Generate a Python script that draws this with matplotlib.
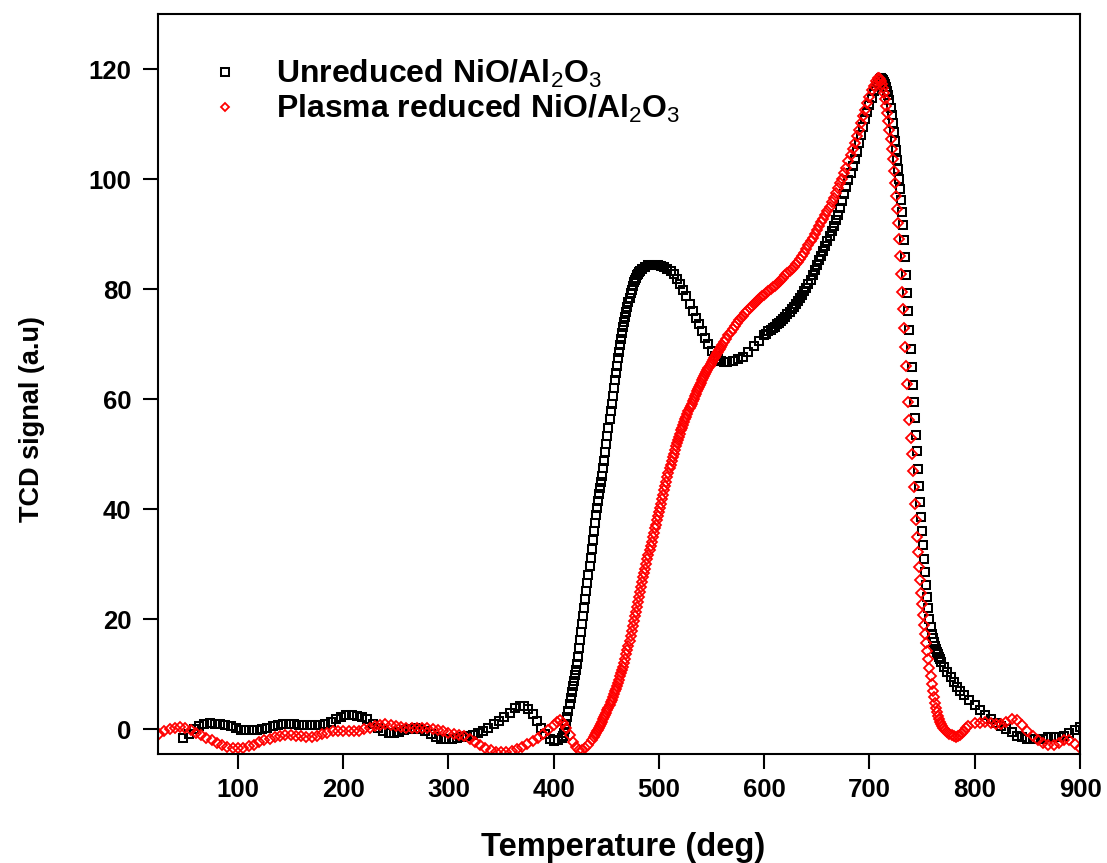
import matplotlib
matplotlib.use("Agg")
import matplotlib.pyplot as plt
from matplotlib import font_manager
import numpy as np

plt.rcParams['font.family'] = ['Liberation Sans', 'DejaVu Sans']
plt.rcParams['mathtext.fontset'] = 'custom'
plt.rcParams['mathtext.rm'] = 'Liberation Sans'
plt.rcParams['mathtext.default'] = 'rm'

# ---------------- data ----------------
# Unreduced NiO/Al2O3 (black squares), in segments of temperature sampling
unred_t1 = np.arange(48, 369, 5)
unred_v1 = [-1.6, -0.8, 0.0, 0.6, 0.9, 1.1, 1.0, 0.9, 0.8, 0.5, 0.2, -0.1, -0.2, -0.2, -0.1, 0.1, 0.3, 0.6, 0.8, 0.9,
            0.9, 0.9, 0.8, 0.8, 0.7, 0.7, 0.8, 1.0, 1.4, 1.8, 2.2, 2.5, 2.5, 2.4, 2.2, 1.8, 1.0, 0.2, -0.4, -0.6,
            -0.6, -0.5, -0.2, 0.1, 0.2, 0.1, -0.3, -0.9, -1.5, -1.7, -1.7, -1.7, -1.6, -1.4, -1.2, -1.0, -0.7, -0.3, 0.3, 0.9,
            1.5, 2.2, 3.0, 3.8, 4.3]
unred_t2 = np.arange(372, 409, 4)
unred_v2 = [4.3, 3.7, 2.8, 1.5, 0.3, -0.9, -1.7, -2.1, -2.0, -1.6]
unred_t3 = np.arange(409, 483)
unred_v3 = [-1.2, -0.6, 0.0, 1.0, 2.2, 3.4, 4.6, 5.7, 6.8, 7.8,
            8.8, 9.8, 10.8, 11.8, 13.2, 14.7, 16.2, 17.7, 19.2, 20.6,
            22.1, 23.6, 25.1, 26.6, 28.1, 29.6, 31.2, 32.8, 34.4, 36.0,
            37.5, 39.0, 40.3, 41.5, 42.7, 43.8, 44.9, 46.1, 47.4, 48.8,
            50.3, 51.8, 53.3, 54.8, 56.3, 57.8, 59.2, 60.6, 62.0, 63.4,
            64.8, 66.1, 67.4, 68.6, 69.8, 71.0, 72.1, 73.1, 74.1, 75.0,
            75.9, 76.8, 77.6, 78.4, 79.2, 79.9, 80.6, 81.2, 81.7, 82.1,
            82.5, 82.8, 83.1, 83.3]
unred_t4 = np.arange(484, 566, 3)
unred_v4 = [83.6, 84.0, 84.3, 84.4, 84.4, 84.3, 84.2, 84.0, 83.7, 83.3,
            82.7, 81.9, 81.0, 79.9, 78.7, 77.3, 76.0, 74.8, 73.6, 72.4,
            71.2, 70.0, 68.8, 67.9, 67.3, 67.0, 66.8, 66.8]
unred_t5 = np.arange(570, 599, 5)
unred_v5 = [67.0, 67.3, 67.7, 68.5, 69.6, 70.6]
unred_t6 = np.arange(600, 711, 2)
unred_v6 = [71.6, 71.9, 72.3, 72.6, 72.9, 73.2, 73.6, 73.9, 74.2, 74.6,
            75.0, 75.4, 75.8, 76.3, 76.8, 77.3, 77.8, 78.4, 79.0, 79.6,
            80.2, 80.9, 81.7, 82.6, 83.5, 84.3, 85.2, 86.1, 87.0, 87.9,
            88.7, 89.6, 90.5, 91.5, 92.5, 93.5, 94.7, 96.0, 97.3, 98.6,
            99.8, 101.1, 102.4, 103.7, 105.0, 106.5, 108.0, 109.5, 110.9, 112.2,
            113.5, 114.8, 116.0, 117.0, 117.7, 118.2]
unred_t7 = np.arange(711, 769)
unred_v7 = [118.3, 118.2, 118.0, 117.7, 117.2, 116.7, 116.0, 115.2, 114.3, 113.0,
            111.6, 110.1, 108.5, 106.9, 105.2, 103.5, 101.8, 100.0, 98.2, 96.2,
            94.0, 91.6, 89.0, 85.8, 82.6, 79.3, 76.0, 72.5, 69.1, 65.8,
            62.6, 59.5, 56.5, 53.5, 50.5, 47.3, 44.2, 41.3, 38.6, 36.0,
            33.5, 31.0, 28.6, 26.2, 24.0, 22.0, 20.1, 18.6, 17.4, 16.5,
            15.8, 15.2, 14.6, 14.1, 13.6, 13.2, 12.7, 12.3]
unred_t8 = np.arange(771, 787, 3)
unred_v8 = [11.3, 10.4, 9.5, 8.6, 7.7, 7.0]
unred_t9 = np.arange(790, 901, 5)
unred_v9 = [6.2, 5.3, 4.4, 3.5, 2.6, 1.8, 1.1, 0.5, 0.0, -0.5,
            -1.2, -1.5, -1.7, -1.8, -1.8, -1.7, -1.5, -1.4, -1.4, -1.2,
            -0.7, -0.1, 0.4]

# Plasma reduced NiO/Al2O3 (red diamonds)
plas_t1 = np.arange(25, 401, 5)
plas_v1 = [-0.9, -0.4, 0.0, 0.3, 0.4, 0.2, -0.2, -0.6, -1.1, -1.6,
           -2.0, -2.5, -2.9, -3.2, -3.4, -3.5, -3.4, -3.1, -2.8, -2.4,
           -2.0, -1.7, -1.4, -1.2, -1.1, -1.1, -1.2, -1.3, -1.4, -1.4,
           -1.2, -0.9, -0.6, -0.4, -0.3, -0.3, -0.4, -0.4, -0.3, 0.0,
           0.3, 0.6, 0.8, 0.9, 0.8, 0.6, 0.4, 0.3, 0.3, 0.3,
           0.3, 0.2, 0.0, -0.2, -0.4, -0.6, -0.8, -1.0, -1.3, -1.8,
           -2.3, -2.8, -3.4, -3.8, -4.1, -4.2, -4.2, -4.0, -3.6, -3.2,
           -2.7, -2.2, -1.6, -0.9, -0.1, 0.8]
plas_t2 = np.arange(403, 438, 3)
plas_v2 = [1.3, 1.6, 1.2, 0.2, -1.0, -2.3, -3.3, -3.8, -3.8, -3.4, -2.8, -2.0]
plas_t3 = np.arange(438, 561)
plas_v3 = [-1.4, -1.1, -0.7, -0.4, -0.1, 0.3, 0.6, 1.0, 1.4, 1.8,
           2.2, 2.6, 3.0, 3.5, 3.9, 4.4, 4.9, 5.4, 5.9, 6.4,
           6.9, 7.4, 7.9, 8.4, 9.0, 9.6, 10.2, 10.8, 11.4, 12.1,
           12.8, 13.6, 14.4, 15.2, 16.0, 16.9, 17.8, 18.7, 19.6, 20.5,
           21.4, 22.3, 23.2, 24.1, 25.0, 25.9, 26.7, 27.6, 28.4, 29.2,
           30.1, 30.9, 31.7, 32.5, 33.3, 34.1, 34.9, 35.7, 36.5, 37.2,
           38.0, 38.7, 39.5, 40.2, 41.0, 41.8, 42.6, 43.4, 44.2, 45.0,
           45.8, 46.6, 47.4, 48.1, 48.8, 49.5, 50.1, 50.8, 51.4, 52.0,
           52.6, 53.2, 53.7, 54.3, 54.8, 55.3, 55.8, 56.3, 56.8, 57.3,
           57.8, 58.3, 58.7, 59.2, 59.6, 60.1, 60.5, 60.9, 61.4, 61.8,
           62.2, 62.6, 63.0, 63.4, 63.8, 64.2, 64.6, 64.9, 65.3, 65.7,
           66.0, 66.4, 66.7, 67.1, 67.4, 67.7, 68.0, 68.3, 68.6, 68.9,
           69.2, 69.5, 69.8]
plas_t4 = np.arange(562, 709, 2)
plas_v4 = [70.4, 71.0, 71.6, 72.2, 72.8, 73.3, 73.8, 74.3, 74.8, 75.2,
           75.6, 76.1, 76.5, 76.9, 77.3, 77.7, 78.0, 78.4, 78.7, 79.0,
           79.3, 79.6, 80.0, 80.3, 80.6, 81.0, 81.3, 81.7, 82.1, 82.5,
           82.9, 83.3, 83.7, 84.1, 84.5, 85.0, 85.4, 86.0, 86.6, 87.3,
           88.0, 88.7, 89.3, 90.0, 90.8, 91.5, 92.2, 92.8, 93.5, 94.2,
           95.0, 95.8, 96.6, 97.4, 98.3, 99.2, 100.1, 101.1, 102.1, 103.2,
           104.3, 105.4, 106.6, 107.8, 109.0, 110.2, 111.4, 112.6, 113.8, 115.0,
           116.1, 117.0, 117.8, 118.3]
plas_t5 = np.arange(709, 771)
plas_v5 = [118.4, 118.2, 117.8, 117.2, 116.5, 115.6, 114.5, 113.3, 112.0, 110.6,
           109.0, 107.3, 105.5, 103.6, 101.5, 99.3, 97.0, 94.6, 92.0, 89.1,
           86.0, 82.8, 79.5, 76.3, 73.0, 69.5, 66.0, 62.7, 59.5, 56.2,
           53.0, 50.0, 47.0, 44.0, 41.0, 38.0, 35.0, 32.2, 29.5, 27.1,
           24.8, 22.7, 20.7, 18.9, 17.3, 15.7, 14.2, 12.7, 11.2, 9.7,
           8.3, 7.0, 5.9, 4.8, 3.9, 3.1, 2.4, 1.8, 1.3, 0.9,
           0.6, 0.3]
plas_t6 = np.arange(772, 795, 2)
plas_v6 = [-0.1, -0.5, -0.8, -1.1, -1.3, -1.4, -1.3, -1.1, -0.7, -0.3, 0.2, 0.6]
plas_t7 = np.arange(800, 901, 5)
plas_v7 = [1.1, 1.2, 1.3, 1.2, 1.0, 0.9, 1.3, 1.8, 1.6, 0.7,
           -0.3, -1.2, -1.9, -2.5, -2.9, -2.9, -2.5, -2.0, -1.9, -2.6, -3.4]

label_unreduced = r'Unreduced NiO/Al$_2$O$_3$'
label_plasma = r'Plasma reduced NiO/Al$_2$O$_3$'
x_ticks = [100, 200, 300, 400, 500, 600, 700, 800, 900]
y_ticks = [0, 20, 40, 60, 80, 100, 120]

temp_unreduced = np.concatenate([unred_t1, unred_t2, unred_t3, unred_t4, unred_t5,
                                 unred_t6, unred_t7, unred_t8, unred_t9])
tcd_unreduced = np.concatenate([unred_v1, unred_v2, unred_v3, unred_v4, unred_v5,
                                unred_v6, unred_v7, unred_v8, unred_v9])
temp_plasma = np.concatenate([plas_t1, plas_t2, plas_t3, plas_t4, plas_t5, plas_t6, plas_t7])
tcd_plasma = np.concatenate([plas_v1, plas_v2, plas_v3, plas_v4, plas_v5, plas_v6, plas_v7])

# ---------------- figure ----------------
fig = plt.figure(figsize=(11.07, 8.63), dpi=100)
ax = fig.add_axes([158/1107, 1 - 754/863, (1080-158)/1107, (754-14)/863])

ax.plot(temp_unreduced, tcd_unreduced, linestyle='none', marker='s', markersize=6,
        markerfacecolor='none', markeredgecolor='black', markeredgewidth=1.45, label=label_unreduced)
ax.plot(temp_plasma, tcd_plasma, linestyle='none', marker='D', markersize=4.7,
        markerfacecolor='none', markeredgecolor='red', markeredgewidth=1.3, label=label_plasma)

ax.set_xlim(24, 900)
ax.set_ylim(-4.5, 130)
ax.set_xticks(x_ticks)
ax.set_yticks(y_ticks)
ax.tick_params(direction='out', length=11, width=1.5, labelsize=18.5, top=False, right=False)
ax.tick_params(axis='y', pad=8)
ax.tick_params(axis='x', pad=6)
for lab in ax.get_xticklabels() + ax.get_yticklabels():
    lab.set_fontweight('bold')
for s in ax.spines.values():
    s.set_linewidth(1.5)

ax.set_xlabel('Temperature (deg)', fontsize=23.5, fontweight='bold')
ax.xaxis.set_label_coords(0.505, -0.105)

try:
    font_manager.findfont(font_manager.FontProperties(family='Liberation Sans Narrow', weight='bold'),
                          fallback_to_default=False)
    ylab_family, ylab_size = ['Liberation Sans Narrow', 'Liberation Sans'], 23
except Exception:
    ylab_family, ylab_size = ['Liberation Sans', 'DejaVu Sans'], 19.5
ax.set_ylabel('TCD signal (a.u)', fontsize=ylab_size, fontweight='bold', family=ylab_family)
ax.yaxis.set_label_coords(-0.123, 0.453)

leg = ax.legend(loc='upper left', bbox_to_anchor=(0.055, 0.94), frameon=False,
                prop={'size': 23, 'weight': 'bold'}, handlelength=1.0, handletextpad=1.1,
                borderpad=0, borderaxespad=0, labelspacing=0.07, numpoints=1, markerscale=0.9)

fig.savefig('out.png', dpi=100)
